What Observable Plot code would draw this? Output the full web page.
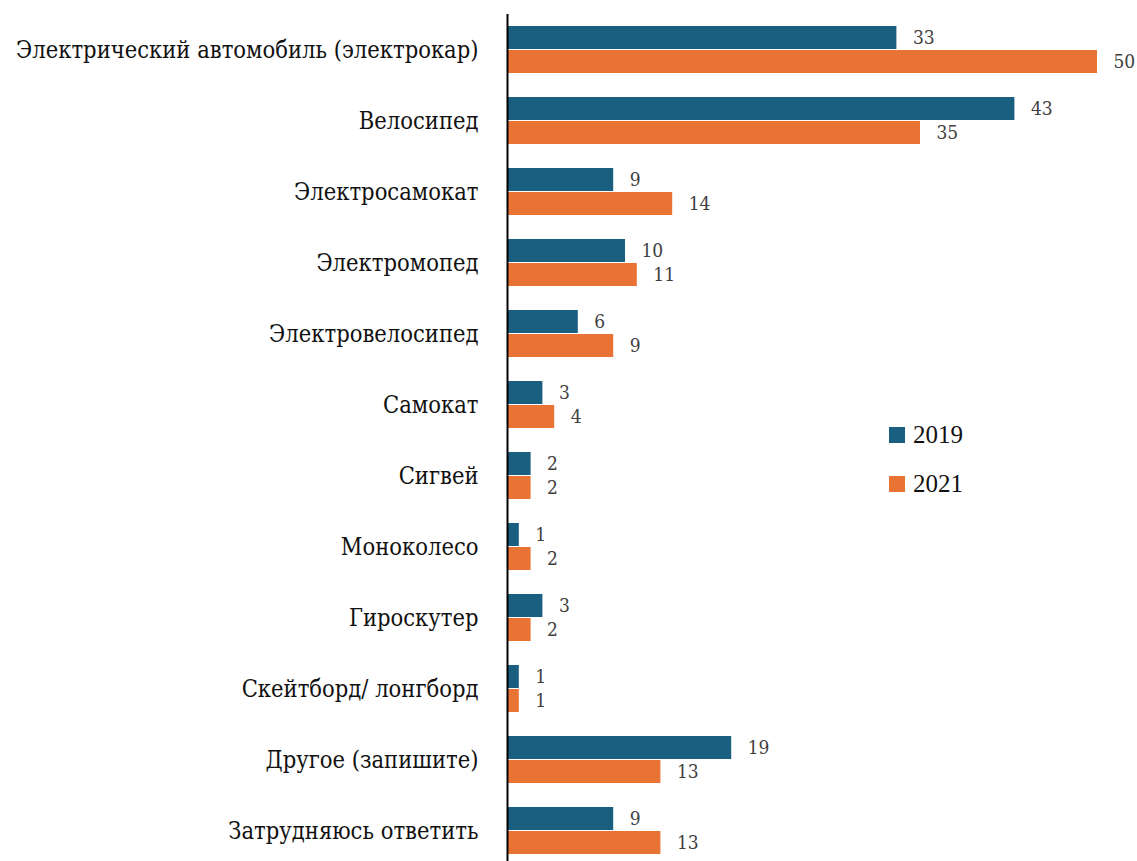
<!DOCTYPE html>
<html><head><meta charset="utf-8">
<script src="https://cdn.jsdelivr.net/npm/d3@7"></script>
<script src="https://cdn.jsdelivr.net/npm/@observablehq/plot@0.6"></script>
<style>
body{margin:0;background:#fff;font-family:"Liberation Serif",serif}
#wrap{position:relative;width:1137px;height:861px;overflow:hidden}
#wrap svg text{font-stretch:condensed}
.leg{position:absolute;left:889px;display:flex;align-items:center;font-size:25px;color:#111;font-family:"Liberation Serif",serif}
.leg span.sw{display:inline-block;width:16px;height:16px;margin-right:8px}
</style></head><body><div id="wrap"></div>
<script>
const categories = [
  "Электрический автомобиль (электрокар)",
  "Велосипед",
  "Электросамокат",
  "Электромопед",
  "Электровелосипед",
  "Самокат",
  "Сигвей",
  "Моноколесо",
  "Гироскутер",
  "Скейтборд/ лонгборд",
  "Другое (запишите)",
  "Затрудняюсь ответить"
];
const years = ["2019", "2021"];
const values2019 = [33, 43, 9, 10, 6, 3, 2, 1, 3, 1, 19, 9];
const values2021 = [50, 35, 14, 11, 9, 4, 2, 2, 2, 1, 13, 13];
const colors = ["#1a5e80", "#e97334"];

const data = categories.flatMap((c, i) => [
  {category: c, year: years[0], value: values2019[i]},
  {category: c, year: years[1], value: values2021[i]}
]);

const chart = Plot.plot({
  width: 1137, height: 866,
  marginLeft: 507, marginRight: 40, marginTop: 14, marginBottom: 0,
  style: "font-family: 'DejaVu Serif', serif; font-size: 23.5px; background: #fff; color: #111;",
  x: {domain: [0, 50], axis: null},
  y: {domain: years, paddingInner: 0.04, paddingOuter: 0.46, axis: null},
  fy: {domain: categories, padding: 0, label: null},
  color: {domain: years, range: colors},
  marks: [
    Plot.axisFy({anchor: "left", tickSize: 0, tickPadding: 29, label: null, fontSize: 23.5, fill: "#111"}),
    Plot.barX(data, {fy: "category", y: "year", x: "value", fill: "year"}),
    Plot.text(data, {fy: "category", y: "year", x: "value", text: d => String(d.value),
      textAnchor: "start", dx: 16, fill: "#404040", fontSize: 19}),
    Plot.ruleX([0], {stroke: "#000", strokeWidth: 2})
  ]
});
const wrap = document.getElementById("wrap");
wrap.appendChild(chart);
const tops = [421, 470];
years.forEach((y, i) => {
  const d = document.createElement("div");
  d.className = "leg";
  d.style.top = tops[i] + "px";
  d.innerHTML = `<span class="sw" style="background:${colors[i]}"></span>${y}`;
  wrap.appendChild(d);
});
</script>
</body></html>
